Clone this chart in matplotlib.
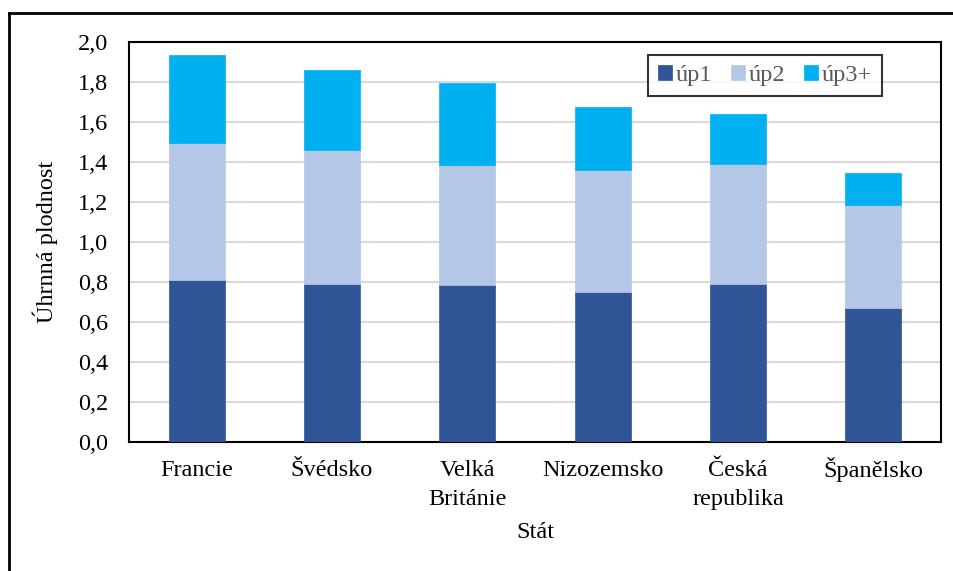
import matplotlib
matplotlib.use("Agg")
import matplotlib.pyplot as plt
from matplotlib.lines import Line2D
from matplotlib.transforms import ScaledTranslation
import numpy as np

plt.rcParams['font.family'] = ['Liberation Serif', 'DejaVu Serif']

categories = ["Francie", "Švédsko", "Velká\nBritánie", "Nizozemsko", "Česká\nrepublika", "Španělsko"]
up1 = [0.81, 0.79, 0.785, 0.75, 0.79, 0.67]
up2 = [0.68, 0.67, 0.60, 0.61, 0.60, 0.51]
up3 = [0.44, 0.40, 0.41, 0.31, 0.25, 0.16]
series_names = ["úp1", "úp2", "úp3+"]
colors = ["#2F5597", "#B4C7E7", "#00B0F0"]
yticks = [0.0, 0.2, 0.4, 0.6, 0.8, 1.0, 1.2, 1.4, 1.6, 1.8, 2.0]

FS = 17.5
W, H = 954, 571
fig = plt.figure(figsize=(W/100, H/100), dpi=100)
ax = fig.add_axes([129/W, 1-441.5/H, (941-129)/W, (441.5-41.5)/H])

x = np.arange(len(categories))
bottom = np.zeros(len(categories))
handles = []
for vals, name, c in zip([up1, up2, up3], series_names, colors):
    b = ax.bar(x, vals, width=0.414, bottom=bottom, color=c, label=name,
               edgecolor=c, linewidth=0.5, zorder=3)
    handles.append(b)
    bottom = bottom + np.array(vals)

ax.set_xlim(-0.5, len(categories)-0.5)
ax.set_ylim(0, 2.0)
ax.set_yticks(yticks)
ax.set_yticklabels([f"{v:.1f}".replace(".", ",") for v in yticks])
ax.set_xticks(x)
ax.set_xticklabels([""] * len(categories))
ax.tick_params(axis='both', length=0, labelsize=FS, colors='black')
ax.tick_params(axis='y', pad=15)

# category labels: each line baseline-aligned
xform = ax.get_xaxis_transform()
for xi, cat in zip(x, categories):
    for i, line in enumerate(cat.split("\n")):
        off = ScaledTranslation(0, -(35 + i * 28.3) / 100, fig.dpi_scale_trans)
        ax.text(xi, 0, line, transform=xform + off, ha='center', va='baseline',
                fontsize=FS, color='black')

ax.yaxis.grid(True, color="#D9D9D9", linewidth=1.5, zorder=0)
ax.set_axisbelow(True)
for s in ax.spines.values():
    s.set_color('black')
    s.set_linewidth(1.5)

ax.set_ylabel("Úhrnná plodnost", fontsize=FS)
ax.yaxis.set_label_coords(-(129-45)/812, 0.5, transform=ax.transAxes)
ax.yaxis.label.set_verticalalignment('center')
ax.set_xlabel("Stát", fontsize=FS)
ax.xaxis.set_label_coords(0.5, -(532-441.5)/400, transform=ax.transAxes)
ax.xaxis.label.set_verticalalignment('center')

leg = fig.legend(handles=handles, labels=series_names, loc='upper left',
                 bbox_to_anchor=(648/W, 1-55/H), bbox_transform=fig.transFigure,
                 ncol=3, fontsize=FS, frameon=True, fancybox=False,
                 edgecolor='black', handlelength=0.6, handleheight=0.6,
                 handletextpad=0.15, columnspacing=0.75, borderaxespad=0,
                 borderpad=0.4)
leg.get_frame().set_linewidth(1.5)
for t in leg.get_texts():
    t.set_color("#595959")

# outer frame (clipped at right and bottom)
fig.add_artist(Line2D([9.5/W, 9.5/W], [0, 1-12.5/H], color='black', lw=2, transform=fig.transFigure))
fig.add_artist(Line2D([9.5/W, 1], [1-12.5/H, 1-12.5/H], color='black', lw=2, transform=fig.transFigure))

fig.savefig("out.png", dpi=100)
